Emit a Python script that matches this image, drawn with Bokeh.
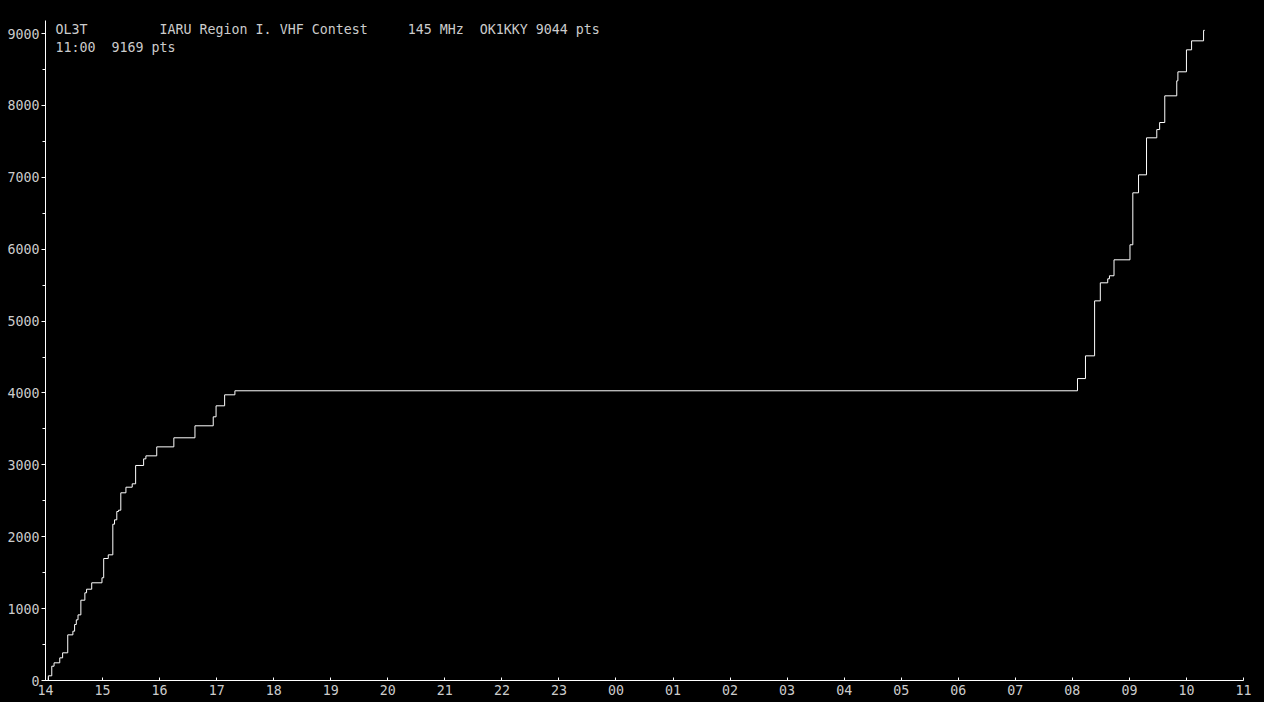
from bokeh.plotting import figure
from bokeh.models import Range1d, FixedTicker, SingleIntervalTicker, Label
from bokeh.embed import file_html
from bokeh.resources import INLINE

# step times (hours from 00:00 of day one; >24 = next day) and score after each step
step_hours = [14.05, 14.05, 14.11, 14.15, 14.25, 14.30, 14.39, 14.48, 14.51, 14.54, 14.57,
              14.62, 14.69, 14.72, 14.81, 14.99, 15.02, 15.10, 15.18, 15.21, 15.25, 15.28,
              15.32, 15.41, 15.52, 15.58, 15.72, 15.76, 15.95, 16.25, 16.62, 16.94, 16.99,
              17.14, 17.32, 32.09, 32.23, 32.39, 32.49, 32.62, 32.65, 32.73, 33.01, 33.06,
              33.16, 33.30, 33.48, 33.53, 33.62, 33.83, 33.85, 34.00, 34.09, 34.30, 34.32]
step_points = [0, 65, 199, 246, 315, 385, 635, 686, 779, 844, 913,
               1117, 1220, 1270, 1359, 1429, 1697, 1748, 2174, 2235, 2351, 2369,
               2611, 2689, 2736, 2991, 3083, 3125, 3250, 3376, 3543, 3668, 3821,
               3974, 4030, 4200, 4516, 5281, 5532, 5588, 5630, 5852, 6061, 6784,
               7034, 7549, 7664, 7762, 8133, 8342, 8467, 8773, 8898, 9044, 9044]

hour_ticks = list(range(14, 36))
hour_labels = {h: f"{h % 24:02d}" for h in hour_ticks}

header_line1 = "OL3T         IARU Region I. VHF Contest     145 MHz  OK1KKY 9044 pts"
header_line2 = "11:00  9169 pts"

FONT = "DejaVu Sans Mono"
TXT = "#cccccc"
NBSP = "\u00a0"

p = figure(width=1264, height=702, output_backend="svg", toolbar_location=None,
           x_range=Range1d(14, 35), y_range=Range1d(0, 9181),
           min_border_left=45, min_border_right=21, min_border_top=20, min_border_bottom=22,
           background_fill_color="black", border_fill_color="black")
p.outline_line_color = None
p.grid.visible = False

p.step(step_hours, step_points, mode="after", line_color="white", line_width=1)
p.scatter([step_hours[0]], [step_points[0]], marker="cross", size=6,
          line_color="white", line_width=1)

xa = p.xaxis[0]
xa.ticker = FixedTicker(ticks=hour_ticks)
xa.major_label_overrides = hour_labels
xa.major_tick_in = 3
xa.major_tick_out = 0
xa.minor_tick_line_color = None
xa.axis_line_color = "white"
xa.major_tick_line_color = "white"
xa.major_label_text_color = TXT
xa.major_label_text_font = FONT
xa.major_label_text_font_size = "13.3px"
xa.major_label_standoff = 4

ya = p.yaxis[0]
ya.ticker = SingleIntervalTicker(interval=1000, num_minor_ticks=2)
ya.major_tick_in = 0
ya.major_tick_out = 4
ya.minor_tick_in = 0
ya.minor_tick_out = 3
ya.axis_line_color = "white"
ya.major_tick_line_color = "white"
ya.minor_tick_line_color = "white"
ya.major_label_text_color = TXT
ya.major_label_text_font = FONT
ya.major_label_text_font_size = "13.3px"
ya.major_label_standoff = 2

p.add_layout(Label(x=14.175, y=9056, text=header_line1.replace(" ", NBSP), text_color=TXT,
                   text_font=FONT, text_font_size="13.3px", text_baseline="middle"))
p.add_layout(Label(x=14.175, y=8806, text=header_line2.replace(" ", NBSP), text_color=TXT,
                   text_font=FONT, text_font_size="13.3px", text_baseline="middle"))

html = file_html(p, INLINE)
html = html.replace("</head>", "<style>html,body{margin:0;padding:0;background:#000;overflow:hidden}</style></head>", 1)
open("out.html", "w").write(html)
